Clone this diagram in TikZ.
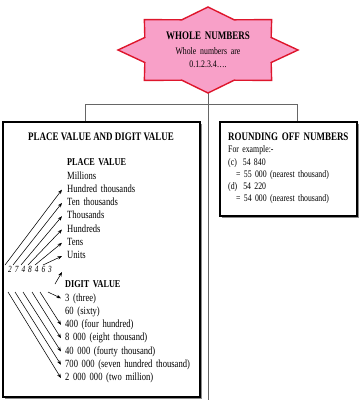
\documentclass[tikz,border=0pt]{standalone}
\usepackage{fontspec}
\setmainfont{Liberation Serif}[FakeStretch=0.78]
\usetikzlibrary{shadows,arrows.meta}
\definecolor{starpink}{RGB}{248,160,200}
\definecolor{starred}{RGB}{222,22,44}

\begin{document}
\begin{tikzpicture}[x=1pt, y=-1pt, node distance=13.3pt]
\tikzstyle{box} = [rectangle, draw=black, line width=1.4pt, fill=white, drop shadow={shadow xshift=1.6pt, shadow yshift=-1.6pt, fill=black!45, opacity=1}]
\tikzstyle{title} = [font=\fontsize{11.5}{13}\selectfont\bfseries, inner sep=0pt]
\tikzstyle{label} = [text width=125pt, align=left, inner sep=0pt, text height=7.5pt, text depth=2pt, font=\fontsize{11}{13}\selectfont]
\tikzstyle{labelhead} = [label, font=\fontsize{10.5}{12}\selectfont\bfseries]
\tikzstyle{link} = [draw=black!60, line width=0.7pt]
\tikzstyle{arrow} = [line width=0.55pt, -{Stealth[length=4.5pt,width=3.4pt]}]
\useasboundingbox (0,0) rectangle (360,400);

% connectors behind everything
\coordinate (wbot) at (208,92);
\coordinate (wend) at (208,400);
\coordinate (jl) at (85,104);
\coordinate (jr) at (297,104);
\draw [link] (wbot) -- (wend);

% eight point star
\coordinate (starc) at (208,50);
\filldraw [draw=starred, fill=starpink, line width=1.4pt, shift={(starc)}]
  (0:90 and 43) \foreach \k [evaluate=\k as \rad using {mod(\k,2)==0 ? 1 : 0.76}] in {1,...,15} { -- ({\k*22.5}:{\rad*90} and {\rad*43}) } -- cycle;
\node [text width=110pt, align=center, inner sep=0pt, font=\fontsize{11.5}{13}\selectfont\bfseries] (whole) at (starc)
  {WHOLE NUMBERS\\[4pt]\mdseries\fontsize{10}{10.5}\selectfont Whole numbers are\\0.1.2.3.4\ldots.};

% the two boxes
\node [box, minimum width=197pt, minimum height=275pt] (pv) at (101.5,259.5) {};
\node [box, minimum width=137pt, minimum height=94pt] (rd) at (288.5,169) {};
\draw [link] (jl |- pv.north) -- (jl) -- (jr) -- (jr |- rd.north);

% place value and digit value
\node [title] (pvt) at (101,137) {PLACE VALUE AND DIGIT VALUE};
\node [labelhead, anchor=west] (pvh) at (67,163) {PLACE VALUE};
\node [label, below of=pvh] (mil) {Millions};
\node [label, below of=mil] (hth) {Hundred thousands};
\node [label, below of=hth] (tth) {Ten thousands};
\node [label, below of=tth] (th) {Thousands};
\node [label, below of=th] (hun) {Hundreds};
\node [label, below of=hun] (ten) {Tens};
\node [label, below of=ten] (uni) {Units};

\node [anchor=west, inner sep=0pt, font=\fontsize{9.4}{11}\selectfont\itshape] (digits) at (8,269) {\spaceskip=3pt 2 7 4 8 4 6 3};

\node [labelhead, anchor=west] (dvh) at (65,285) {DIGIT VALUE};
\node [label, below of=dvh] (d3) {3 (three)};
\node [label, below of=d3] (d60) {60 (sixty)};
\node [label, below of=d60] (d400) {400 (four hundred)};
\node [label, below of=d400] (d8k) {8 000 (eight thousand)};
\node [label, below of=d8k] (d40k) {40 000 (fourty thousand)};
\node [label, below of=d40k] (d700k) {700 000 (seven hundred thousand)};
\node [label, below of=d700k] (d2m) {2 000 000 (two million)};

\foreach \sx/\tgt in {5/hth, 13/tth, 21/th, 28/hun, 35/ten, 43/uni} {
  \coordinate (up\tgt) at (\sx,265);
  \draw [arrow] (up\tgt) -- ([xshift=-5pt]\tgt.west);
}
\coordinate (stuba) at (55,284);
\coordinate (stubb) at (62,272);
\draw [arrow] (stuba) -- (stubb);
\foreach \sx/\tgt in {48/d3, 40/d400, 32/d8k, 23/d40k, 15/d700k, 8/d2m} {
  \coordinate (dn\tgt) at (\sx,292);
  \draw [arrow] (dn\tgt) -- ([xshift=-4pt]\tgt.west);
}

% rounding off
\node [label, anchor=west, font=\fontsize{11.5}{13}\selectfont\bfseries] (rdh) at (228,138) {ROUNDING OFF NUMBERS};
\node [label, below of=rdh, node distance=12.2pt, font=\fontsize{10}{12}\selectfont] (ex) {For example:-};
\node [label, below of=ex, node distance=12.2pt, font=\fontsize{10}{12}\selectfont] (exc) {(c)\hspace{6pt}54 840};
\node [label, below of=exc, node distance=12.2pt, font=\fontsize{10}{12}\selectfont] (exc2) {\hspace{8pt}= 55 000 (nearest thousand)};
\node [label, below of=exc2, node distance=12.2pt, font=\fontsize{10}{12}\selectfont] (exd) {(d)\hspace{6pt}54 220};
\node [label, below of=exd, node distance=12.2pt, font=\fontsize{10}{12}\selectfont] (exd2) {\hspace{8pt}= 54 000 (nearest thousand)};
\end{tikzpicture}
\end{document}
